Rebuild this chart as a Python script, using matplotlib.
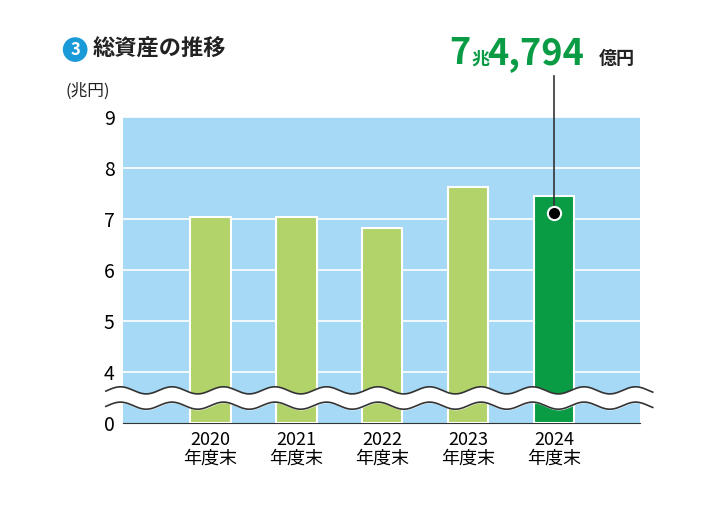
import matplotlib
matplotlib.use('Agg')
import matplotlib.pyplot as plt
import numpy as np

plt.rcParams['font.family'] = ['Noto Sans CJK JP', 'DejaVu Sans']

years = ['2020', '2021', '2022', '2023', '2024']
values = [7.04, 7.04, 6.82, 7.63, 7.44]   # 兆円
ytick_vals = [3, 4, 5, 6, 7, 8, 9]        # 3 は「0」として表示（省略）
ytick_labels = ['0', '4', '5', '6', '7', '8', '9']

LIGHT = '#b1d36a'
DARK = '#0a9b45'
BG = '#a5d9f6'

fig = plt.figure(figsize=(7.09, 5.11), dpi=100)
ax = fig.add_axes([0.1735, 0.1722, 0.729, 0.599])
ax.set_facecolor(BG)
x = np.arange(len(years))
colors = [LIGHT] * 4 + [DARK]
ax.bar(x, np.array(values) - 3, bottom=3, width=0.47, color=colors,
       edgecolor='white', linewidth=1.5, zorder=3)
ax.set_xlim(-1.02, 5)
ax.set_ylim(3, 9)
ax.set_yticks(ytick_vals)
ax.set_yticklabels(ytick_labels, fontsize=14)
ax.set_xticks(x)
ax.set_xticklabels([f'{y}\n年度末' for y in years], fontsize=13, linespacing=1.0)
for v in ytick_vals[1:]:
    ax.axhline(v, color='white', lw=1.2, zorder=1)
for s in ['top', 'right', 'left']:
    ax.spines[s].set_visible(False)
ax.spines['bottom'].set_color('#333333')
ax.tick_params(length=0, pad=6)

# 波線（軸の省略）
wx = np.linspace(-1.22, 5.15, 400)
amp = 0.07
ph = wx * 2 * np.pi / 0.6
y1 = 3.64 + amp * np.sin(ph)
y2 = 3.34 + amp * np.sin(ph)
ax.fill_between(wx, y2, y1, color='white', zorder=5, clip_on=False)
ax.plot(wx, y1, color='#333333', lw=1.2, zorder=6, clip_on=False)
ax.plot(wx, y2, color='#333333', lw=1.2, zorder=6, clip_on=False)

# 2024 の注記
ax.plot([4, 4], [7.12, 9.8], color='#333333', lw=1.2, zorder=7, clip_on=False)
ax.scatter([4], [7.12], s=90, color='black', edgecolors='white', linewidths=1.5, zorder=8)
fig.text(0.633, 0.895, '7', color=DARK, fontsize=26, fontweight='bold', ha='left', va='center')
fig.text(0.665, 0.885, '兆', color=DARK, fontsize=13, fontweight='bold', ha='left', va='center')
fig.text(0.687, 0.895, '4,794', color=DARK, fontsize=26, fontweight='bold', ha='left', va='center')
fig.text(0.845, 0.885, '億円', color='#222222', fontsize=13, fontweight='bold', ha='left', va='center')

# タイトル
fig.text(0.106, 0.903, '3', color='white', fontsize=12, fontweight='bold', ha='center', va='center',
         bbox=dict(boxstyle='circle,pad=0.2', fc='#1a9ad6', ec='none'))
fig.text(0.130, 0.903, '総資産の推移', color='#222222', fontsize=16, fontweight='bold', ha='left', va='center')
fig.text(0.092, 0.822, '(兆円)', color='#222222', fontsize=12, ha='left', va='center')

fig.savefig('out.png', dpi=100)
